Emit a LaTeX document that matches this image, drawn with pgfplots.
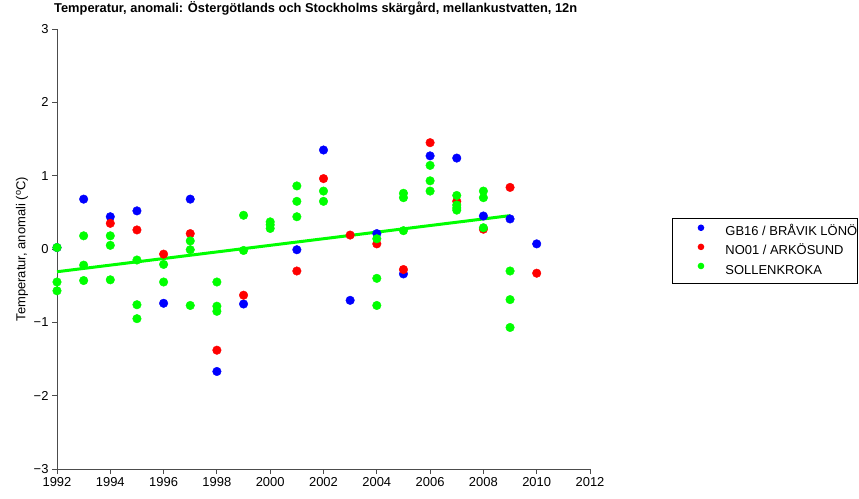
\documentclass[border=0pt]{standalone}
\usepackage{fontspec}
\setmainfont{Liberation Sans}
\usepackage{pgfplots}
\pgfplotsset{compat=1.18}
\definecolor{cblue}{RGB}{0,0,255}
\definecolor{cred}{RGB}{255,0,0}
\definecolor{cgreen}{RGB}{0,255,0}
\begin{document}
\begin{tikzpicture}
\begin{axis}[
  scale only axis, width=533bp, height=440bp,
  xmin=1992, xmax=2012, ymin=-3, ymax=3,
  axis lines=left,
  axis line style={-, draw=black!70, line width=0.8bp},
  xtick={1992,1994,...,2012},
  ytick={-3,-2,-1,0,1,2,3},
  yticklabels={−3,−2,−1,0,1,2,3},
  /pgf/number format/assume math mode=true,
  /pgf/number format/1000 sep={},
  tick align=outside, major tick length=5bp,
  tick style={draw=black!70, line width=0.8bp},
  tick label style={font=\fontsize{13}{15}\selectfont},
  ylabel={Temperatur, anomali (\textsuperscript{o}C)},
  ylabel style={at={(axis description cs:-0.0657,0.5)}, anchor=center, font=\fontsize{13}{15}\selectfont},
  legend style={at={(axis description cs:1.1538,0.5705)}, anchor=north west,
    draw=black, line width=1bp, inner xsep=0pt, inner ysep=6bp, row sep=4.7bp,
    font=\fontsize{13}{15}\selectfont,
    nodes={inner sep=0pt, text height=10bp, text depth=3bp}},
  legend cell align=left,
  legend image code/.code={\fill[#1, draw=none] (0bp,4.6bp) circle (3.3bp); \path (-28bp,0bp) (24bp,0bp);},
  clip=false,
]
\addplot[only marks, mark=*, mark size=4.3bp, color=cblue, mark options={draw=none, fill=cblue}] coordinates {
(1992,0.02) (1993,0.68) (1994,0.44) (1995,0.52) (1996,-0.74) (1997,0.68)
(1998,-1.67) (1999,-0.75) (2001,-0.01) (2002,1.35) (2003,-0.70) (2004,0.21)
(2005,-0.34) (2006,1.27) (2007,1.24) (2008,0.45) (2009,0.41) (2010,0.07)};
\addlegendentry{GB16 / BRÅVIK LÖNÖ}
\addplot[only marks, mark=*, mark size=4.3bp, color=cred, mark options={draw=none, fill=cred}] coordinates {
(1994,0.35) (1995,0.26) (1996,-0.07) (1997,0.21) (1998,-1.38) (1999,-0.63)
(2001,-0.30) (2002,0.96) (2003,0.19) (2004,0.07) (2005,-0.28) (2006,1.45)
(2007,0.65) (2008,0.27) (2009,0.84) (2010,-0.33)};
\addlegendentry{NO01 / ARKÖSUND}
\addplot[only marks, mark=*, mark size=4.3bp, color=cgreen, mark options={draw=none, fill=cgreen}] coordinates {
(1992,0.02) (1992,-0.45) (1992,-0.57)
(1993,0.18) (1993,-0.22) (1993,-0.43)
(1994,0.18) (1994,0.05) (1994,-0.42)
(1995,-0.15) (1995,-0.76) (1995,-0.95)
(1996,-0.21) (1996,-0.45)
(1997,0.11) (1997,-0.01) (1997,-0.77)
(1998,-0.45) (1998,-0.78) (1998,-0.85)
(1999,0.46) (1999,-0.02)
(2000,0.37) (2000,0.33) (2000,0.28)
(2001,0.86) (2001,0.65) (2001,0.44)
(2002,0.79) (2002,0.65)
(2004,0.14) (2004,-0.40) (2004,-0.77)
(2005,0.76) (2005,0.70) (2005,0.25)
(2006,1.14) (2006,0.93) (2006,0.79)
(2007,0.73) (2007,0.60) (2007,0.56) (2007,0.53)
(2008,0.79) (2008,0.70) (2008,0.29)
(2009,-0.30) (2009,-0.69) (2009,-1.07)};
\addlegendentry{SOLLENKROKA}
\addplot[color=cgreen, line width=3bp, forget plot] coordinates {(1992,-0.31) (2009,0.455)};
\end{axis}
\node[anchor=base west, font=\bfseries\fontsize{12.9}{15}\selectfont, inner sep=0pt] at (-3bp,456bp)
  {Temperatur, anomali: Östergötlands och Stockholms skärgård, mellankustvatten, 12n};
\pgfresetboundingbox
\useasboundingbox (-57bp,-30bp) rectangle (802bp,469bp);
\end{tikzpicture}
\end{document}
